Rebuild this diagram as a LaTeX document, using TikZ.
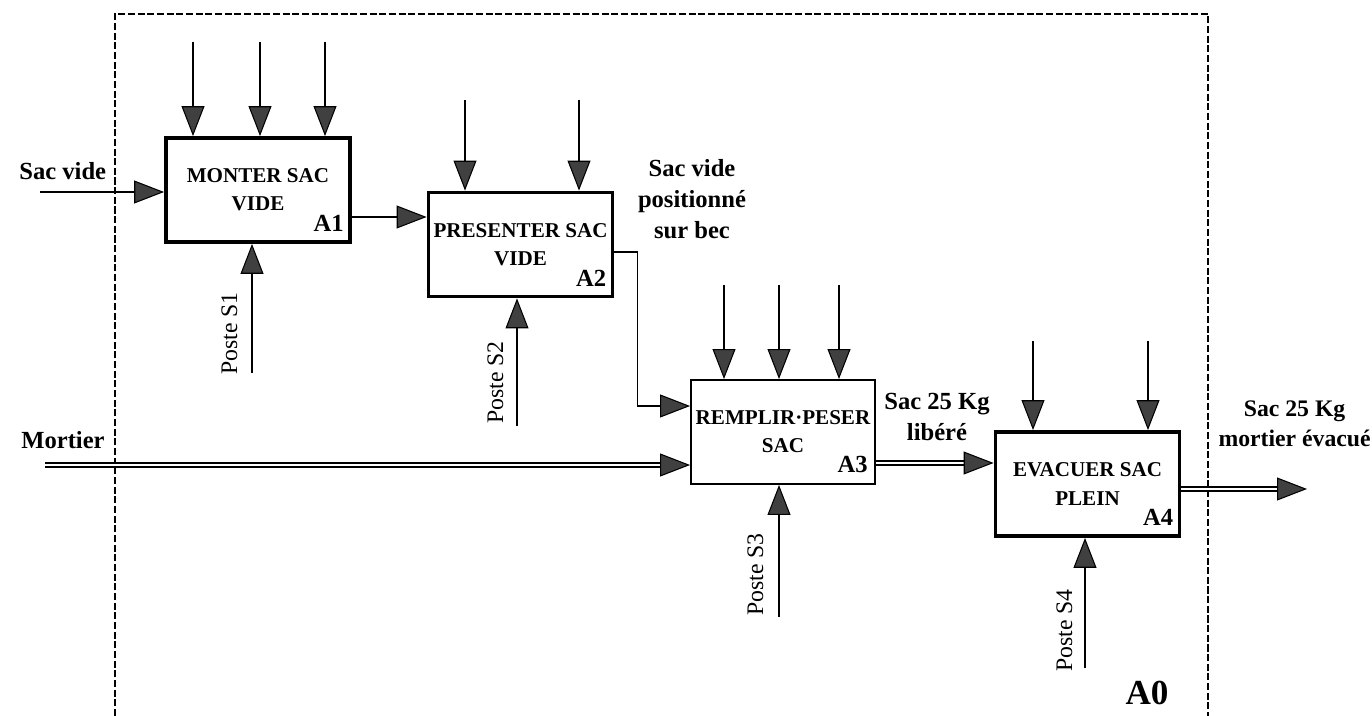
\documentclass[tikz,border=0pt]{standalone}
\usepackage{fontspec}
\setmainfont{Liberation Serif}
\usetikzlibrary{arrows.meta,positioning,calc}

\begin{document}
\begin{tikzpicture}[
  x=0.02cm, y=-0.02cm,
  act/.style={draw, line width=2.2pt, minimum width=3.68cm, minimum height=2.08cm,
    align=center, inner sep=0pt, font=\fontsize{12}{16}\selectfont\bfseries},
  thinbox/.style={line width=1.1pt},
  num/.style={inner sep=0pt, anchor=base east, font=\fontsize{14}{16}\selectfont\bfseries},
  lbl/.style={inner sep=0pt, align=center, font=\fontsize{14}{17.6}\selectfont\bfseries},
  poste/.style={inner sep=0pt, rotate=90, anchor=base west, font=\fontsize{13.5}{16}\selectfont},
  tip/.tip={Triangle[length=17pt, width=13pt, fill=black!75, line width=0.6pt]},
  arr/.style={line width=0.8pt, -tip},
  flow/.style={double, double distance=1.6pt, line width=0.8pt, -tip},
  frame/.style={line width=0.6pt, dash pattern=on 4pt off 1.5pt}]
  \useasboundingbox (0,0) rectangle (1372,716);

  % cadre A0
  \draw[frame] (115,716) -- (115,14) -- (1208,14) -- (1208,716);

  % activites
  \node[act] (a1) at (258,190) {MONTER SAC\\VIDE};
  \node[act] (a2) at (520.5,244.5) {PRESENTER SAC\\VIDE};
  \node[act, thinbox] (a3) at (783,432) {REMPLIR·PESER\\SAC};
  \node[act] (a4) at (1087.5,484) {EVACUER SAC\\PLEIN};
  \foreach \i in {1,...,4}
    \node[num] (n\i) at ($(a\i.south east)+(-8,-12)$) {A\i};
  \node[inner sep=0pt, font=\fontsize{20}{24}\selectfont\bfseries] (a0) at (1147,693) {A0};

  % controles
  \foreach \j/\x in {1/193, 2/260, 3/325} {
    \coordinate (ca\j) at (\x,42);
    \draw[arr] (ca\j) -- (ca\j |- a1.north);
  }
  \foreach \j/\x in {1/465, 2/579} {
    \coordinate (cb\j) at (\x,100);
    \draw[arr] (cb\j) -- (cb\j |- a2.north);
  }
  \foreach \j/\x in {1/724, 2/779, 3/839} {
    \coordinate (cc\j) at (\x,285);
    \draw[arr] (cc\j) -- (cc\j |- a3.north);
  }
  \foreach \j/\x in {1/1033, 2/1148} {
    \coordinate (cd\j) at (\x,341);
    \draw[arr] (cd\j) -- (cd\j |- a4.north);
  }

  % supports
  \coordinate (m1) at (252,373);
  \coordinate (m2) at (517,426);
  \coordinate (m3) at (779,617);
  \coordinate (m4) at (1085,668);
  \foreach \i in {1,...,4}
    \draw[arr] (m\i) -- (m\i |- a\i.south);
  \node[poste] (p1) at ($(m1)+(-15,2)$) {Poste S1};
  \node[poste] (p2) at ($(m2)+(-14,-2)$) {Poste S2};
  \node[poste] (p3) at ($(m3)+(-16,-1)$) {Poste S3};
  \node[poste] (p4) at ($(m4)+(-13,4)$) {Poste S4};

  % entrees / sorties
  \coordinate (in1) at (40,192);
  \coordinate (in2) at (45,465);
  \coordinate (out4) at (1307,489);
  \node[lbl, anchor=base west] (sacvide) at (19,180) {Sac vide};
  \node[lbl, anchor=base west] (mortier) at (21,448) {Mortier};
  \node[lbl, anchor=north] (sacpos) at (692,159) {Sac vide\\positionné\\sur bec};
  \node[lbl, anchor=north] (sacfull) at (937,393) {Sac 25 Kg\\libéré};
  \node[lbl, anchor=north east, font=\fontsize{13.5}{17.6}\selectfont\bfseries]
    (sacout) at (1371,400) {Sac 25 Kg\\mortier évacué};

  \draw[arr] (in1) -- (in1 -| a1.west);
  \draw[arr] ($(a1.east)+(0,27)$) coordinate (o1) -- (o1 -| a2.west);
  \draw[arr] ($(a2.east)+(0,7.5)$) -- ++(23,0) |- ($(a3.west)+(0,-26)$);
  \draw[flow] (in2) -- (in2 -| a3.west);
  \draw[flow] ($(a3.east)+(0,31)$) coordinate (o3) -- (o3 -| a4.west);
  \draw[flow] (out4 -| a4.east) -- (out4);
\end{tikzpicture}
\end{document}
